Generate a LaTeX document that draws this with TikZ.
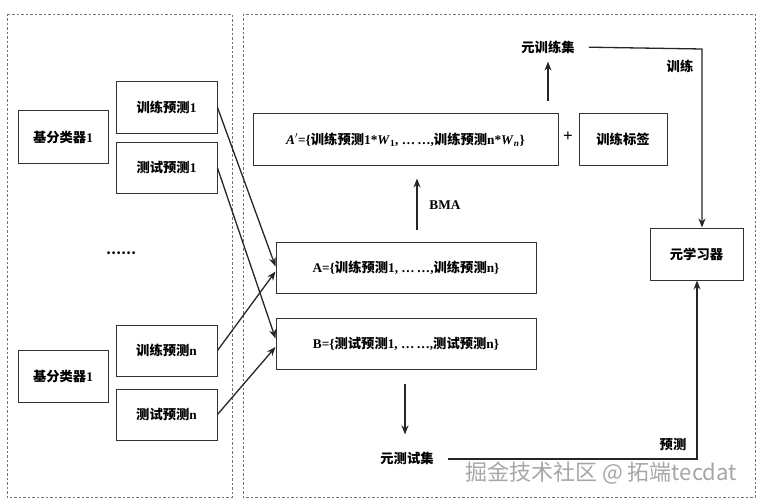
\documentclass[tikz,border=0pt]{standalone}
\usepackage{fontspec}
\setmainfont{Liberation Serif}
\newfontfamily\zhfont{Noto Sans CJK SC}
\newcommand{\zh}[1]{{\zhfont #1}}
\usetikzlibrary{arrows.meta,calc}
\begin{document}
\begin{tikzpicture}[x=1pt,y=-1pt,
  panel/.style={draw=black!55, line width=0.8pt, dash pattern=on 2.5pt off 2pt},
  box/.style={draw=black!80, line width=1pt, inner sep=0pt, font=\fontsize{13.3}{15}\selectfont\bfseries},
  lbl/.style={inner sep=2pt, font=\fontsize{13.3}{15}\selectfont\bfseries},
  arr/.style={-{Stealth[length=9pt,width=7pt]}, line width=1.3pt, draw=black!85},
  wbox/.style={box, minimum width=101pt, minimum height=51pt},
  cbox/.style={box, minimum width=90pt, minimum height=52pt}]
\useasboundingbox (0,0) rectangle (780,503);
% panels
\draw[panel] (7,14) rectangle (232,497);
\draw[panel] (243,14) rectangle (755,497);
% left column
\node[cbox] (b1) at (63,137) {\zh{基分类器}1};
\node[wbox] (t1) at (166.5,107.5) {\zh{训练预测}1};
\node[wbox] (s1) at (166.5,168) {\zh{测试预测}1};
\node[lbl] (dots) at (121,253) {\zh{……}};
\node[wbox] (tn) at (166.5,350.5) {\zh{训练预测}n};
\node[wbox] (sn) at (166.5,414.5) {\zh{测试预测}n};
\node[cbox] (bn) at (63,376) {\zh{基分类器}1};
% right column
\node[box, minimum width=305pt, minimum height=51pt] (Ap) at (405.5,139.5)
  {\textit{A}$'$=\{\zh{训练预测}1*\textit{W}\textsubscript{1}, \ldots\,\ldots,\zh{训练预测}n*\textit{W}\textsubscript{\textit{n}}\}};
\node[box, minimum width=88pt, minimum height=51pt] (lab) at (623,139.5) {\zh{训练标签}};
\node[lbl, font=\fontsize{17}{18}\selectfont\bfseries] (plus) at (568,137) {+};
\node[lbl] (mtrain) at (548,47) {\zh{元训练集}};
\node[box, minimum width=260pt, minimum height=51pt] (Abox) at (406,267.5)
  {A=\{\zh{训练预测}1, \ldots\,\ldots,\zh{训练预测}n\}};
\node[box, minimum width=260pt, minimum height=51pt] (Bbox) at (406,343.5)
  {B=\{\zh{测试预测}1, \ldots\,\ldots,\zh{测试预测}n\}};
\node[box, minimum width=93pt, minimum height=52pt] (meta) at (696.5,254) {\zh{元学习器}};
\node[lbl] (mtest) at (407,458) {\zh{元测试集}};
\node[lbl] (bma) at (445,205) {BMA};
\node[lbl] (trl) at (680,66) {\zh{训练}};
\node[lbl] (prl) at (673,445) {\zh{预测}};
% coordinates
\coordinate (bmax) at (417,0);
\coordinate (tr) at (702,49);
\coordinate (pr) at (697,459);
\coordinate (dnx) at (405,0);
% crossing arrows
\draw[arr] (t1.east) -- ([yshift=1pt]Abox.west);
\draw[arr] (tn.east) -- ([yshift=-4pt]Abox.west);
\draw[arr] (s1.east) -- ([yshift=5pt]Bbox.west);
\draw[arr] (sn.east) -- ([yshift=-3.5pt]Bbox.west);
% BMA arrow
\draw[arr, shorten <=12pt, shorten >=13pt] (Abox.north -| bmax) -- (Ap.south -| bmax);
% up to meta train set
\draw[arr, shorten <=12pt, shorten >=6pt] (Ap.north -| mtrain) -- (mtrain.south);
% train line
\draw[arr, shorten <=12pt] (mtrain.east) -- (tr) -- (tr |- meta.north);
% B down to meta test set
\draw[arr, shorten <=14pt, shorten >=15pt] (Bbox.south -| dnx) -- (dnx |- mtest.north);
% predict line
\draw[arr, shorten <=12pt] (mtest.east |- pr) -- (pr) -- (pr |- meta.south);
% watermark
\node[text=black!35, font=\fontsize{22}{24}\selectfont] (wm) at (601,473) {\zh{掘金技术社区 @ 拓端}\zh{tecdat}};
\end{tikzpicture}
\end{document}
